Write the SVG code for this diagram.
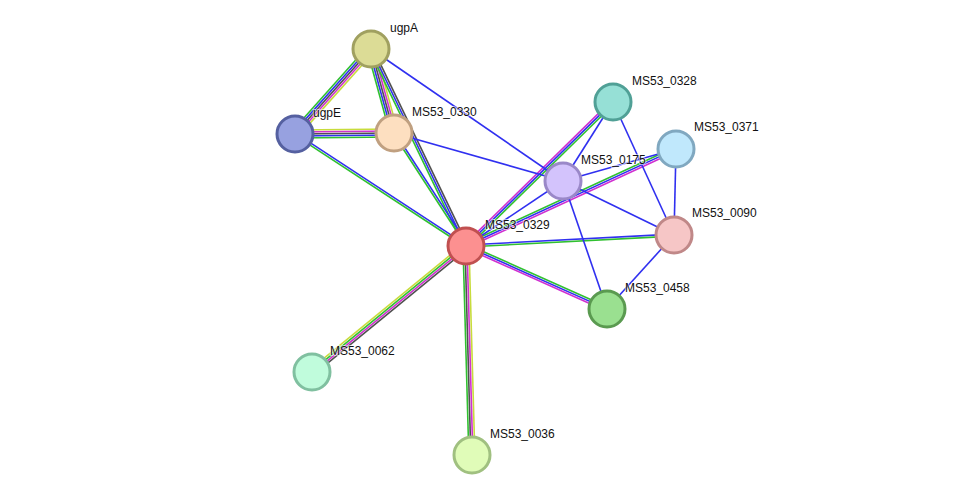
<svg xmlns="http://www.w3.org/2000/svg" width="975" height="501" viewBox="0 0 975 501">
<style>
line{stroke-width:1.6;fill:none}
.y{stroke:#c8dc3c}.m{stroke:#d030d0}.k{stroke:#505050}.b{stroke:#3030f0}.g{stroke:#30c030}
circle{stroke-width:3}
text{font-family:"Liberation Sans",Arial,sans-serif;font-size:12px;fill:#111;paint-order:stroke;stroke:#fff;stroke-width:2px;stroke-opacity:0.6}
</style>
<rect width="975" height="501" fill="#fff"/>
<g id="connectors">
<g transform="translate(371,49) rotate(131.8)"><line class="y" x1="0" y1="-4" x2="114" y2="-4"/><line class="m" x1="0" y1="-2" x2="114" y2="-2"/><line class="k" x1="0" y1="0" x2="114" y2="0"/><line class="b" x1="0" y1="2" x2="114" y2="2"/><line class="g" x1="0" y1="4" x2="114" y2="4"/></g>
<g transform="translate(371,49) rotate(74.7)"><line class="y" x1="0" y1="-4" x2="87" y2="-4"/><line class="m" x1="0" y1="-2" x2="87" y2="-2"/><line class="k" x1="0" y1="0" x2="87" y2="0"/><line class="b" x1="0" y1="2" x2="87" y2="2"/><line class="g" x1="0" y1="4" x2="87" y2="4"/></g>
<g transform="translate(371,49) rotate(64.3)"><line class="k" x1="0" y1="-2" x2="219" y2="-2"/><line class="b" x1="0" y1="0" x2="219" y2="0"/><line class="g" x1="0" y1="2" x2="219" y2="2"/></g>
<g transform="translate(394,133) rotate(57)"><line class="b" x1="0" y1="-1" x2="135" y2="-1"/><line class="g" x1="0" y1="1" x2="135" y2="1"/></g>
<g transform="translate(295,134) rotate(-0.6)"><line class="y" x1="0" y1="-4" x2="99" y2="-4"/><line class="m" x1="0" y1="-2" x2="99" y2="-2"/><line class="k" x1="0" y1="0" x2="99" y2="0"/><line class="b" x1="0" y1="2" x2="99" y2="2"/><line class="g" x1="0" y1="4" x2="99" y2="4"/></g>
<g transform="translate(295,134) rotate(33.2)"><line class="b" x1="0" y1="-1" x2="204" y2="-1"/><line class="g" x1="0" y1="1" x2="204" y2="1"/></g>
<g transform="translate(466,246) rotate(-44.4)"><line class="m" x1="0" y1="-2" x2="206" y2="-2"/><line class="b" x1="0" y1="0" x2="206" y2="0"/><line class="g" x1="0" y1="2" x2="206" y2="2"/></g>
<g transform="translate(466,246) rotate(-24.8)"><line class="g" x1="0" y1="-2" x2="231" y2="-2"/><line class="b" x1="0" y1="0" x2="231" y2="0"/><line class="m" x1="0" y1="2" x2="231" y2="2"/></g>
<g transform="translate(466,246) rotate(-3)"><line class="b" x1="0" y1="-1" x2="208" y2="-1"/><line class="g" x1="0" y1="1" x2="208" y2="1"/></g>
<g transform="translate(466,246) rotate(24.1)"><line class="g" x1="0" y1="-2" x2="154" y2="-2"/><line class="b" x1="0" y1="0" x2="154" y2="0"/><line class="m" x1="0" y1="2" x2="154" y2="2"/></g>
<g transform="translate(466,246) rotate(140.7)"><line class="k" x1="0" y1="-3" x2="199" y2="-3"/><line class="m" x1="0" y1="-1" x2="199" y2="-1"/><line class="g" x1="0" y1="1" x2="199" y2="1"/><line class="y" x1="0" y1="3" x2="199" y2="3"/></g>
<g transform="translate(466,246) rotate(88.4)"><line class="y" x1="0" y1="-3" x2="209" y2="-3"/><line class="m" x1="0" y1="-1" x2="209" y2="-1"/><line class="k" x1="0" y1="1" x2="209" y2="1"/><line class="g" x1="0" y1="3" x2="209" y2="3"/></g>
<line class="b" x1="371" y1="49" x2="563" y2="181"/>
<line class="b" x1="394" y1="133" x2="563" y2="181"/>
<line class="b" x1="466" y1="246" x2="563" y2="181"/>
<line class="b" x1="613" y1="102" x2="563" y2="181"/>
<line class="b" x1="613" y1="102" x2="674" y2="235"/>
<line class="b" x1="676" y1="149" x2="563" y2="181"/>
<line class="b" x1="676" y1="149" x2="674" y2="235"/>
<line class="b" x1="563" y1="181" x2="674" y2="235"/>
<line class="b" x1="563" y1="181" x2="607" y2="309"/>
<line class="b" x1="674" y1="235" x2="607" y2="309"/>
</g>
<g id="ugpA"><circle cx="371" cy="49" r="18" fill="#dcdc96" stroke="#a0a060"/><text x="390" y="32">ugpA</text></g>
<g id="ugpE"><circle cx="295" cy="134" r="18" fill="#97a1e0" stroke="#5560a0"/><text x="313" y="117">ugpE</text></g>
<g id="MS53_0330"><circle cx="394" cy="133" r="18" fill="#fddfc0" stroke="#c0a080"/><text x="412" y="116">MS53_0330</text></g>
<g id="MS53_0328"><circle cx="613" cy="102" r="18" fill="#96e0d6" stroke="#50a096"/><text x="632" y="85">MS53_0328</text></g>
<g id="MS53_0371"><circle cx="676" cy="149" r="18" fill="#c0e8fc" stroke="#80a8c0"/><text x="694" y="131">MS53_0371</text></g>
<g id="MS53_0175"><circle cx="563" cy="181" r="18" fill="#d3c3fc" stroke="#9a88c8"/><text x="581" y="164">MS53_0175</text></g>
<g id="MS53_0090"><circle cx="674" cy="235" r="18" fill="#f6c6c6" stroke="#c08888"/><text x="692" y="217">MS53_0090</text></g>
<g id="MS53_0329"><circle cx="466" cy="246" r="18" fill="#fc9090" stroke="#c05050"/><text x="485" y="229">MS53_0329</text></g>
<g id="MS53_0458"><circle cx="607" cy="309" r="18" fill="#9ae090" stroke="#5a9a50"/><text x="625" y="292">MS53_0458</text></g>
<g id="MS53_0062"><circle cx="312" cy="372" r="18" fill="#c0fcdc" stroke="#80c0a0"/><text x="330" y="355">MS53_0062</text></g>
<g id="MS53_0036"><circle cx="472" cy="455" r="18" fill="#e0fcb8" stroke="#a0c080"/><text x="490" y="438">MS53_0036</text></g>
</svg>
